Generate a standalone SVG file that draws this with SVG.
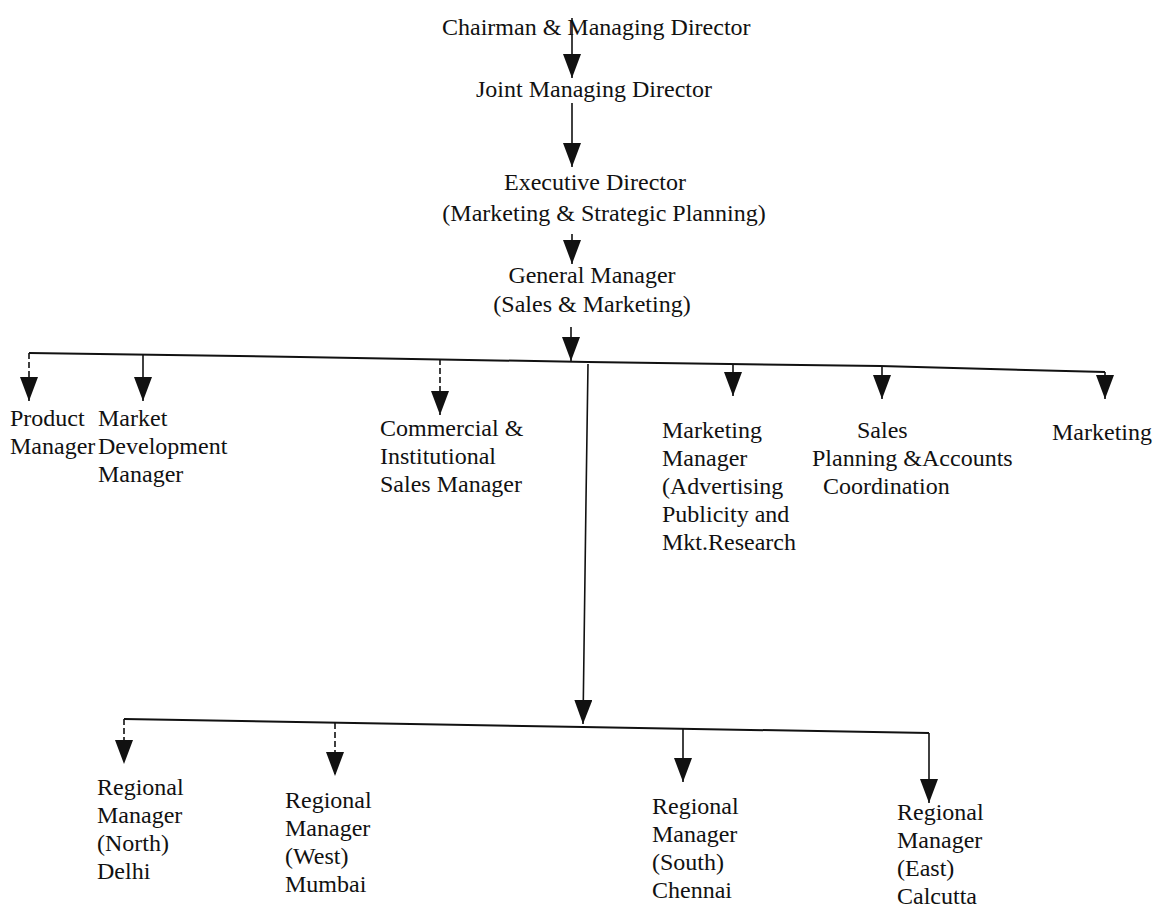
<svg xmlns="http://www.w3.org/2000/svg" width="1166" height="915" viewBox="0 0 1166 915">
  <style>
    text { font-family: "Liberation Serif", "Times New Roman", serif; font-size: 24px; fill: #111; }
    .c { text-anchor: middle; }
    .ln { fill: none; stroke: #111; stroke-width: 2; }
    .dr { fill: none; stroke: #111; stroke-width: 1.6; marker-end: url(#ah); }
    .dash { stroke-dasharray: 6 3; }
  </style>
  <defs>
    <marker id="ah" viewBox="0 0 24 18" refX="24" refY="9" markerWidth="24" markerHeight="18" markerUnits="userSpaceOnUse" orient="auto">
      <path d="M0,0 L24,9 L0,18 Z" fill="#111"/>
    </marker>
  </defs>
  <rect width="1166" height="915" fill="#fff"/>

  <!-- reporting lines -->
  <g id="connectors">
    <line class="dr" x1="572" y1="18" x2="572" y2="78"/>
    <line class="dr" x1="572" y1="103" x2="572" y2="167"/>
    <line class="dr" x1="572" y1="234" x2="572" y2="264"/>
    <line class="dr" x1="571" y1="327" x2="571" y2="361"/>
    <!-- first-level bus -->
    <polyline class="ln" points="29,353 300,357 588,362 880,366 1105,372"/>
    <line class="dr dash" x1="29" y1="353" x2="29" y2="401"/>
    <line class="dr" x1="143" y1="355" x2="143" y2="401"/>
    <line class="dr dash" x1="440" y1="359" x2="440" y2="415"/>
    <line class="dr" x1="733" y1="364" x2="733" y2="396"/>
    <line class="dr" x1="882" y1="366" x2="882" y2="399"/>
    <line class="dr" x1="1105" y1="372" x2="1105" y2="399"/>
    <!-- trunk to regional managers -->
    <polyline class="dr" points="588,364 586,500 583,724"/>
    <polyline class="ln" points="124,719 583,727 929,733"/>
    <line class="dr dash" x1="124" y1="719" x2="124" y2="764"/>
    <line class="dr dash" x1="335" y1="723" x2="335" y2="776"/>
    <line class="dr" x1="683" y1="729" x2="683" y2="782"/>
    <line class="dr" x1="929" y1="733" x2="929" y2="803"/>
  </g>

  <g id="cmd"><text x="442" y="35">Chairman &amp; Managing Director</text></g>
  <g id="jmd"><text x="476" y="97">Joint Managing Director</text></g>
  <g id="ed">
    <text x="595" y="190" class="c">Executive Director</text>
    <text x="604" y="221" class="c">(Marketing &amp; Strategic Planning)</text>
  </g>
  <g id="gm">
    <text x="592" y="283" class="c">General Manager</text>
    <text x="592" y="312" class="c">(Sales &amp; Marketing)</text>
  </g>

  <g id="product-manager">
    <text x="10" y="426">Product</text>
    <text x="10" y="454">Manager</text>
  </g>
  <g id="market-development">
    <text x="98" y="426">Market</text>
    <text x="98" y="454">Development</text>
    <text x="98" y="482">Manager</text>
  </g>
  <g id="commercial-sales">
    <text x="380" y="436">Commercial &amp;</text>
    <text x="380" y="464">Institutional</text>
    <text x="380" y="492">Sales Manager</text>
  </g>
  <g id="marketing-manager">
    <text x="662" y="438">Marketing</text>
    <text x="662" y="466">Manager</text>
    <text x="662" y="494">(Advertising</text>
    <text x="662" y="522">Publicity and</text>
    <text x="662" y="550">Mkt.Research</text>
  </g>
  <g id="sales-planning">
    <text x="857" y="438">Sales</text>
    <text x="812" y="466">Planning &amp;Accounts</text>
    <text x="823" y="494">Coordination</text>
  </g>
  <g id="marketing">
    <text x="1052" y="440">Marketing</text>
  </g>

  <g id="rm-north">
    <text x="97" y="795">Regional</text>
    <text x="97" y="823">Manager</text>
    <text x="97" y="851">(North)</text>
    <text x="97" y="879">Delhi</text>
  </g>
  <g id="rm-west">
    <text x="285" y="808">Regional</text>
    <text x="285" y="836">Manager</text>
    <text x="285" y="864">(West)</text>
    <text x="285" y="892">Mumbai</text>
  </g>
  <g id="rm-south">
    <text x="652" y="814">Regional</text>
    <text x="652" y="842">Manager</text>
    <text x="652" y="870">(South)</text>
    <text x="652" y="898">Chennai</text>
  </g>
  <g id="rm-east">
    <text x="897" y="820">Regional</text>
    <text x="897" y="848">Manager</text>
    <text x="897" y="876">(East)</text>
    <text x="897" y="904">Calcutta</text>
  </g>
</svg>
